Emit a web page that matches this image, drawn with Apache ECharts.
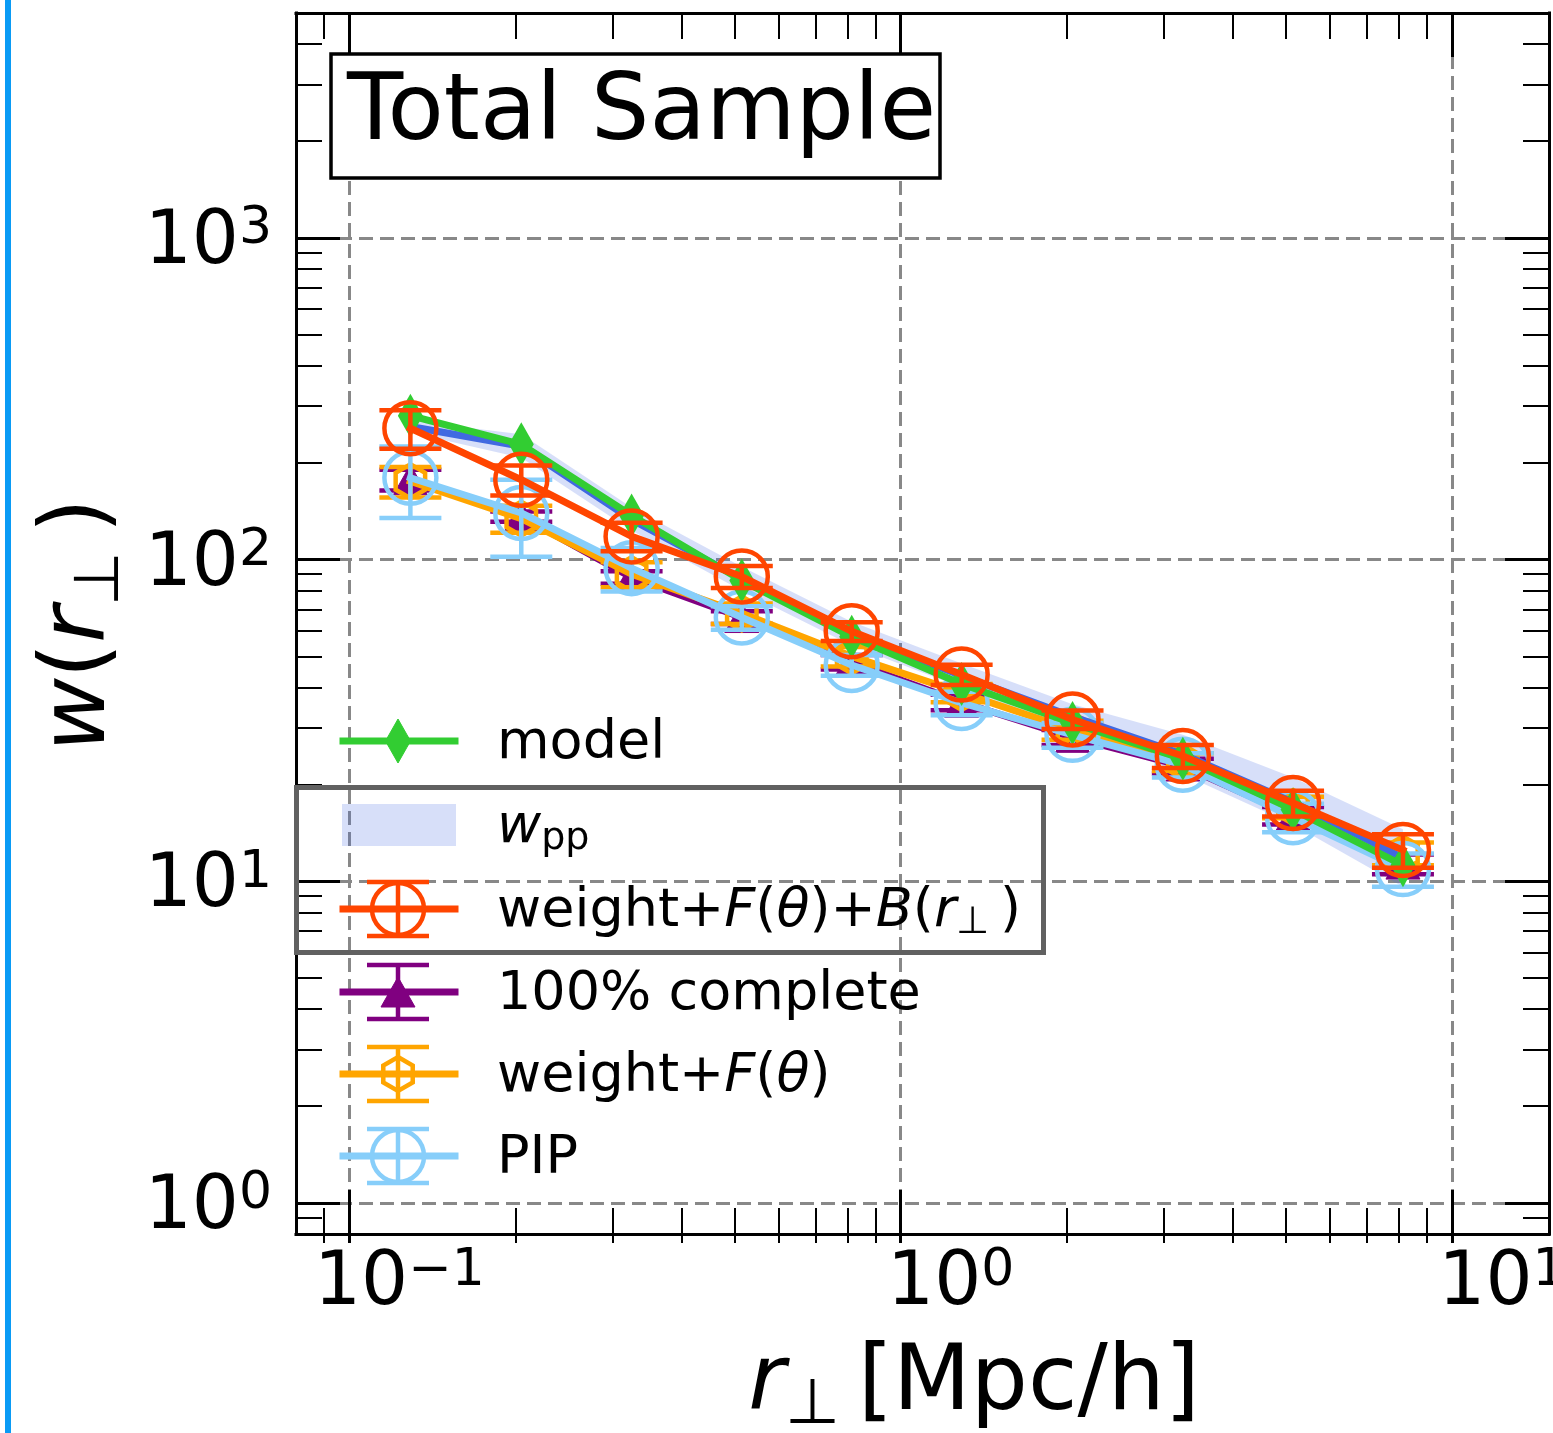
<!DOCTYPE html>
<html>
<head>
<meta charset="utf-8">
<title>w(r⊥) – Total Sample</title>
<script src="https://cdn.jsdelivr.net/npm/echarts@6.0.0/dist/echarts.min.js"></script>
<style>
  html, body { margin: 0; padding: 0; background: #ffffff; }
  #chart { width: 1553px; height: 1433px; }
</style>
</head>
<body>
<div id="chart"></div>
<script>
// projected separation bin centres [Mpc/h]
const rPerp = [0.129, 0.205, 0.325, 0.515, 0.815, 1.29, 2.05, 3.25, 5.15, 8.15];

// model prediction
const wModel = [280, 228, 137, 86, 57.5, 41, 31, 24, 16.7, 11.2];

// w_pp: central curve and its 1-sigma band
const wppMid  = [259, 225, 133, 87, 59, 43.5, 32.5, 24.8, 17.6, 11.8];
const wppLow  = [248, 207, 123, 80, 54, 40, 29.5, 21.5, 15, 9.6];
const wppHigh = [270, 245, 145, 95, 64, 47.5, 35.5, 28.5, 21, 14.5];

// weight + F(theta) + B(r_perp)
const wFB    = [256, 177, 118, 88.5, 59.8, 43.9, 31.8, 24.5, 17.5, 12.5];
const wFBErr = [35, 19, 12, 7, 4, 3.2, 2.1, 2, 1.6, 1.5];

// 100% complete sample
const wFull    = [177, 136, 88, 66, 48, 36, 28, 22.8, 16, 11.3];
const wFullErr = [13, 5, 4, 3, 2.5, 2, 1.5, 1.2, 1, 0.8];

// weight + F(theta)
const wF    = [175, 134, 90, 68, 50, 38.5, 29.5, 23.5, 17, 12.2];
const wFErr = [19, 13, 8, 5, 3.5, 2.5, 2, 1.5, 1.3, 1.0];

// PIP weights
const wPIP    = [179.5, 139.5, 94, 66, 47, 35.8, 28.5, 23, 15.8, 10.9];
const wPIPErr = [45, 37.5, 14.5, 5.5, 3.5, 3, 2.5, 2, 1.6, 1.3];

// tick positions
const xMajorTicks = [0.1, 1, 10];
const xMinorTicks = [0.09, 0.2, 0.3, 0.4, 0.5, 0.6, 0.7, 0.8, 0.9, 2, 3, 4, 5, 6, 7, 8, 9];
const yMajorTicks = [1, 10, 100, 1000];
const yMinorTicks = [0.8, 0.9, 2, 3, 4, 5, 6, 7, 8, 9, 20, 30, 40, 50, 60, 70, 80, 90,
                     200, 300, 400, 500, 600, 700, 800, 900, 2000, 3000, 4000, 5000];

const X_RANGE = [0.08, 15];
const Y_RANGE = [0.8, 5000];

const FONT = 'DejaVu Sans';
const COLORS = {
  model: '#32cd32', wpp: '#4169e1', band: 'rgba(65,105,225,0.21)',
  fb: '#ff4500', full: '#800080', f: '#ffa500', pip: '#87cefa'
};
const LINE_W = 7;

// ---------- axes ----------
function powLabel(v) {
  const e = Math.round(Math.log10(v));
  return '{b|10}{s|' + (e < 0 ? '\u2212' + (-e) : String(e)) + '}';
}
const powRich = {
  b: { fontFamily: FONT, fontSize: 74, lineHeight: 80, color: '#000' },
  s: { fontFamily: FONT, fontSize: 52, lineHeight: 32, verticalAlign: 'top', color: '#000' }
};
const spine = { show: true, onZero: false, lineStyle: { color: '#000', width: 3, cap: 'square' } };
const gridLines = { show: true, lineStyle: { color: '#888888', width: 3, type: [14, 7] } };

function ticks(values, len, width, inside) {
  return { show: true, inside: inside, length: len, customValues: values,
           lineStyle: { color: '#000', width: width } };
}
function logAxis(range, extra) {
  return Object.assign({
    type: 'log', logBase: 10, gridIndex: 0, min: range[0], max: range[1],
    axisLine: { show: false }, axisTick: { show: false }, axisLabel: { show: false },
    splitLine: { show: false }, minorTick: { show: false }, minorSplitLine: { show: false },
    axisPointer: { show: false }, silent: true
  }, extra);
}

const xAxes = [
  logAxis(X_RANGE, {
    position: 'bottom', axisLine: spine, axisTick: ticks(xMajorTicks, 44, 3, true),
    axisLabel: { show: true, customValues: xMajorTicks, formatter: powLabel, margin: 11,
                 padding: [0, 0, 0, 100], fontFamily: FONT, rich: powRich },
    splitLine: gridLines
  }),
  logAxis(X_RANGE, { position: 'bottom', axisTick: ticks(xMinorTicks, 26, 2, true) }),
  logAxis(X_RANGE, { position: 'bottom', axisTick: ticks(xMajorTicks, 9, 3, false) }),
  logAxis(X_RANGE, { position: 'bottom', axisTick: ticks(xMinorTicks, 9, 2, false) }),
  logAxis(X_RANGE, { position: 'top', axisLine: spine, axisTick: ticks(xMajorTicks, 44, 3, true) }),
  logAxis(X_RANGE, { position: 'top', axisTick: ticks(xMinorTicks, 26, 2, true) })
];
const yAxes = [
  logAxis(Y_RANGE, {
    position: 'left', axisLine: spine, axisTick: ticks(yMajorTicks, 44, 3, true),
    axisLabel: { show: true, customValues: yMajorTicks, formatter: powLabel, margin: 24,
                 padding: [12, 0, 0, 0], fontFamily: FONT, rich: powRich },
    splitLine: gridLines
  }),
  logAxis(Y_RANGE, { position: 'left', axisTick: ticks(yMinorTicks, 26, 2, true) }),
  logAxis(Y_RANGE, { position: 'right', axisLine: spine, axisTick: ticks(yMajorTicks, 44, 3, true) }),
  logAxis(Y_RANGE, { position: 'right', axisTick: ticks(yMinorTicks, 26, 2, true) })
];

// ---------- glyphs ----------
const CAP_HALF = 31, BAR_W = 4.5, RING_W = 4.5;

function markerGlyph(x, y, color, kind) {
  if (kind === 'circle') {
    return { type: 'circle', shape: { cx: x, cy: y, r: 26 },
             style: { fill: 'none', stroke: color, lineWidth: RING_W } };
  }
  if (kind === 'hexagon') {
    const R = 17, h = R * Math.sqrt(3) / 2;
    return { type: 'polygon',
             shape: { points: [[x, y - R], [x + h, y - R / 2], [x + h, y + R / 2],
                               [x, y + R], [x - h, y + R / 2], [x - h, y - R / 2]] },
             style: { fill: 'none', stroke: color, lineWidth: RING_W } };
  }
  if (kind === 'triangle') {
    return { type: 'polygon', shape: { points: [[x, y - 15], [x + 17, y + 15], [x - 17, y + 15]] },
             style: { fill: color, stroke: color, lineWidth: 1 } };
  }
  // thin diamond
  return { type: 'polygon', shape: { points: [[x, y - 22], [x + 12.5, y], [x, y + 22], [x - 12.5, y]] },
           style: { fill: color, stroke: color, lineWidth: 1 } };
}

function errorbarGlyph(x, y, yLo, yHi, color, kind) {
  const s = { fill: 'none', stroke: color, lineWidth: BAR_W };
  return [
    { type: 'line', shape: { x1: x, y1: yLo, x2: x, y2: yHi }, style: s },
    { type: 'line', shape: { x1: x - CAP_HALF, y1: yLo, x2: x + CAP_HALF, y2: yLo }, style: s },
    { type: 'line', shape: { x1: x - CAP_HALF, y1: yHi, x2: x + CAP_HALF, y2: yHi }, style: s },
    markerGlyph(x, y, color, kind)
  ];
}

// ---------- series ----------
function lineSeries(name, vals, color, z, extra) {
  return Object.assign({
    type: 'line', name: name, z: z, silent: true, animation: false,
    xAxisIndex: 0, yAxisIndex: 0,
    data: rPerp.map((r, i) => [r, vals[i]]),
    symbol: 'none',
    lineStyle: { color: color, width: LINE_W, join: 'round', cap: 'square' },
    itemStyle: { color: color }
  }, extra || {});
}

function errorbarSeries(name, vals, errs, color, kind, z) {
  return {
    type: 'custom', name: name, z: z, silent: true, animation: false,
    xAxisIndex: 0, yAxisIndex: 0,
    data: rPerp.map((r, i) => [r, vals[i], vals[i] - errs[i], vals[i] + errs[i]]),
    encode: { x: 0, y: 1 },
    renderItem: function (params, api) {
      const c = api.coord([api.value(0), api.value(1)]);
      const lo = api.coord([api.value(0), api.value(2)]);
      const hi = api.coord([api.value(0), api.value(3)]);
      return { type: 'group', children: errorbarGlyph(c[0], c[1], lo[1], hi[1], color, kind) };
    }
  };
}

const bandSeries = {
  type: 'custom', name: 'wpp band', z: 1, silent: true, animation: false,
  xAxisIndex: 0, yAxisIndex: 0,
  data: rPerp.map((r, i) => [r, wppLow[i], wppHigh[i]]),
  encode: { x: 0, y: [1, 2] },
  renderItem: function (params, api) {
    if (params.dataIndex !== 0) return null;
    const upper = [], lower = [];
    for (let i = 0; i < rPerp.length; i++) {
      upper.push(api.coord([rPerp[i], wppHigh[i]]));
      lower.push(api.coord([rPerp[i], wppLow[i]]));
    }
    return { type: 'polygon', shape: { points: upper.concat(lower.reverse()) },
             style: { fill: COLORS.band, stroke: 'none' } };
  }
};

const series = [
  bandSeries,
  lineSeries('100% complete', wFull, COLORS.full, 2),
  errorbarSeries('100% complete err', wFull, wFullErr, COLORS.full, 'triangle', 3),
  lineSeries('weight+F', wF, COLORS.f, 4),
  errorbarSeries('weight+F err', wF, wFErr, COLORS.f, 'hexagon', 5),
  lineSeries('PIP', wPIP, COLORS.pip, 6),
  errorbarSeries('PIP err', wPIP, wPIPErr, COLORS.pip, 'circle', 7),
  lineSeries('wpp', wppMid, COLORS.wpp, 8),
  lineSeries('model', wModel, COLORS.model, 9, {
    symbol: 'diamond', symbolSize: [25, 44], showSymbol: true, showAllSymbol: true
  }),
  lineSeries('weight+F+B', wFB, COLORS.fb, 10),
  errorbarSeries('weight+F+B err', wFB, wFBErr, COLORS.fb, 'circle', 11)
];

// ---------- legend (drawn as graphics) ----------
const legendEntries = [
  { label: 'model', kind: 'diamond', color: COLORS.model },
  { label: '{i|w}{sub|pp}', kind: 'band', color: COLORS.band },
  { label: 'weight+{i|F}({i|\u03b8})+{i|B}({i|r}{sub|\u22a5}\u2009)', kind: 'circle', color: COLORS.fb },
  { label: '100% complete', kind: 'triangle', color: COLORS.full },
  { label: 'weight+{i|F}({i|\u03b8})', kind: 'hexagon', color: COLORS.f },
  { label: 'PIP', kind: 'circle', color: COLORS.pip }
];
const LEG = { x0: 343, x1: 455, mx: 398, tx: 497, err: 27, textDy: 3 };
const legendRowY = [741, 825, 909, 992, 1074, 1156];
const legendRich = {
  i:   { fontFamily: FONT, fontSize: 54, fontStyle: 'italic', lineHeight: 60, color: '#000' },
  sub: { fontFamily: FONT, fontSize: 38, lineHeight: 34, verticalAlign: 'bottom', color: '#000' }
};

const graphics = [];
// thin accent bar along the left edge of the page
graphics.push({ type: 'rect', z: 50, silent: true, shape: { x: 5, y: 0, width: 6, height: 1433 },
                style: { fill: '#0a9bf5' } });

legendEntries.forEach((e, i) => {
  const cy = legendRowY[i];
  if (e.kind === 'band') {
    graphics.push({ type: 'rect', z: 60, silent: true,
                    shape: { x: LEG.x0 - 1, y: cy - 21, width: LEG.x1 - LEG.x0 + 2, height: 42 },
                    style: { fill: e.color } });
  } else {
    graphics.push({ type: 'line', z: 60, silent: true,
                    shape: { x1: LEG.x0, y1: cy, x2: LEG.x1, y2: cy },
                    style: { stroke: e.color, lineWidth: LINE_W, lineCap: 'square' } });
    const parts = e.kind === 'diamond'
      ? [markerGlyph(LEG.mx, cy, e.color, 'diamond')]
      : errorbarGlyph(LEG.mx, cy, cy + LEG.err, cy - LEG.err, e.color, e.kind);
    parts.forEach(p => graphics.push(Object.assign({ z: 61, silent: true }, p)));
  }
  graphics.push({ type: 'text', z: 62, silent: true, x: LEG.tx, y: cy + LEG.textDy,
                  style: { text: e.label, fontFamily: FONT, fontSize: 54, fill: '#000',
                           align: 'left', verticalAlign: 'middle', lineHeight: 60, rich: legendRich } });
});

// grey frame around the w_pp and weight+F+B entries
graphics.push({ type: 'rect', z: 63, silent: true, shape: { x: 296.5, y: 787.5, width: 747, height: 165 },
                style: { fill: 'none', stroke: '#616161', lineWidth: 5 } });

// axis titles
const titleRich = {
  i:   { fontFamily: FONT, fontSize: 90, fontStyle: 'italic', lineHeight: 104, color: '#000' },
  sub: { fontFamily: FONT, fontSize: 63, lineHeight: 60, verticalAlign: 'bottom', color: '#000' }
};
graphics.push({ type: 'text', z: 62, silent: true, x: 974, y: 1386,
                style: { text: '{i|r}{sub|\u22a5}\u2009[Mpc/h]', fontFamily: FONT, fontSize: 90, fill: '#000',
                         align: 'center', verticalAlign: 'middle', lineHeight: 104, rich: titleRich } });
graphics.push({ type: 'text', z: 62, silent: true, x: 81, y: 625, rotation: Math.PI / 2,
                style: { text: '{i|w}({i|r}{sub|\u22a5}\u2009)', fontFamily: FONT, fontSize: 90, fill: '#000',
                         align: 'center', verticalAlign: 'middle', lineHeight: 104, rich: titleRich } });

// ---------- chart ----------
const chart = echarts.init(document.getElementById('chart'), null, { renderer: 'canvas' });
chart.setOption({
  animation: false,
  backgroundColor: '#ffffff',
  title: {
    text: 'Total Sample', left: 331, top: 54, padding: [15, 4, 16, 16],
    borderColor: '#000', borderWidth: 3.5, backgroundColor: '#ffffff',
    textStyle: { fontFamily: FONT, fontSize: 92, fontWeight: 'normal', color: '#000', lineHeight: 93 }
  },
  grid: { left: 296, top: 13, width: 1253, height: 1221, containLabel: false, outerBoundsMode: 'none' },
  xAxis: xAxes,
  yAxis: yAxes,
  series: series,
  graphic: { elements: graphics }
});
</script>
</body>
</html>
